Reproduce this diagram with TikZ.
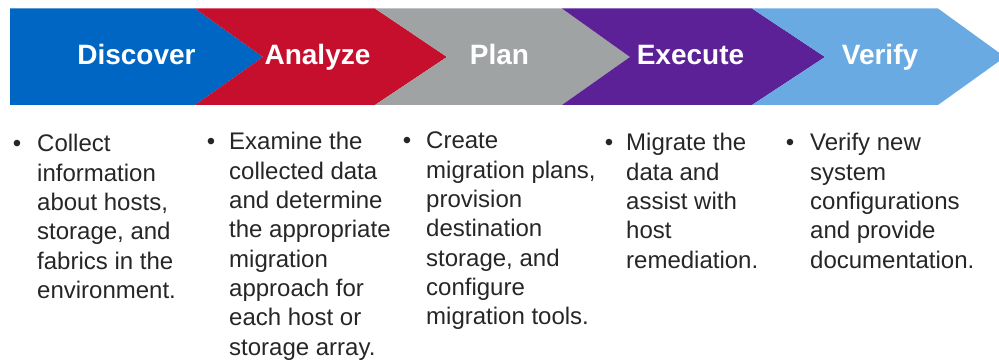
\documentclass[tikz,border=0pt]{standalone}
\usepackage{fontspec}
\setmainfont{Liberation Sans}
\definecolor{cBlue}{HTML}{0066C4}
\definecolor{cRed}{HTML}{C60F2D}
\definecolor{cGray}{HTML}{A0A3A4}
\definecolor{cPurple}{HTML}{5C2197}
\definecolor{cLight}{HTML}{6AAAE3}
\definecolor{cText}{HTML}{262626}
\begin{document}
\begin{tikzpicture}[x=1pt,y=1pt,
  head/.style={text=white, font=\fontsize{28}{32}\selectfont\bfseries, anchor=base, inner sep=0pt},
  body/.style={text=cText, font=\fontsize{24}{29.3}\selectfont, anchor=base west, align=left, inner sep=0pt},
  bul/.style={text=cText, font=\fontsize{24}{29.3}\selectfont, anchor=base, inner sep=0pt}]
\useasboundingbox (0,0) rectangle (999,361);
% chevrons
\fill[cBlue] (10,352.5) -- (195,352.5) -- (263,304) -- (195,256) -- (10,256) -- cycle;
\fill[cRed] (195,352.5) -- (375,352.5) -- (447,304) -- (375,256) -- (195,256) -- (263,304) -- cycle;
\fill[cGray] (375,352.5) -- (562,352.5) -- (630,304) -- (562,256) -- (375,256) -- (447,304) -- cycle;
\fill[cPurple] (562,352.5) -- (752,352.5) -- (825,304) -- (752,256) -- (562,256) -- (630,304) -- cycle;
\fill[cLight] (752,352.5) -- (938,352.5) -- (1005,304) -- (938,256) -- (752,256) -- (825,304) -- cycle;
% headings
\node[head] (h1) at (136.5,296) {Discover};
\node[head] (h2) at (317.5,296) {Analyze};
\node[head] (h3) at (499.5,296) {Plan};
\node[head] (h4) at (690.5,296) {Execute};
\node[head] (h5) at (880,296) {Verify};
% bullets (first baselines)
\node[bul] (b1) at (17,209) {•};
\node[bul] (b2) at (211,211) {•};
\node[bul] (b3) at (407,212) {•};
\node[bul] (b4) at (609,210) {•};
\node[bul] (b5) at (790,210) {•};
% body texts (anchored at last baseline)
\node[body] (t1) at (37,62.5) {Collect\\information\\about hosts,\\storage, and\\fabrics in the\\environment.};
\node[body] (t2) at (229,5.9) {Examine the\\collected data\\and determine\\the appropriate\\migration\\approach for\\each host or\\storage array.};
\node[body] (t3) at (426,36.2) {Create\\migration plans,\\provision\\destination\\storage, and\\configure\\migration tools.};
\node[body] (t4) at (626,92.8) {Migrate the\\data and\\assist with\\host\\remediation.};
\node[body] (t5) at (810,92.8) {Verify new\\system\\configurations\\and provide\\documentation.};
\end{tikzpicture}
\end{document}
